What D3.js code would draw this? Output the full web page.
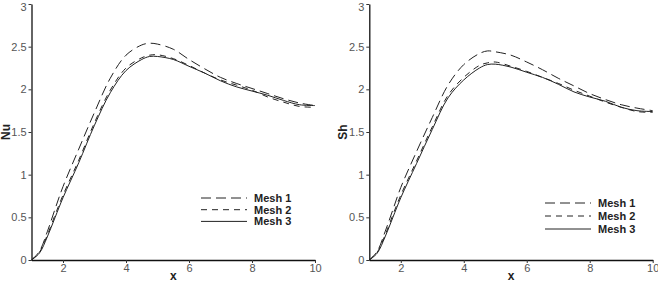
<!DOCTYPE html>
<html>
<head>
<meta charset="utf-8">
<script src="https://cdn.jsdelivr.net/npm/d3@7"></script>
<style>
  body { margin: 0; background: #fff; }
  svg { display: block; font-family: "Liberation Sans", Arial, sans-serif; }
</style>
</head>
<body>
<div id="chart"></div>
<script>
const xGrid = [1, 1.25, 1.5, 1.75, 2, 2.5, 3, 3.5, 4, 4.5, 4.75, 5, 5.5, 6, 6.5, 7, 7.5, 8, 8.5, 9, 9.5, 10];

const nuMesh1 = [0, 0.10, 0.33, 0.60, 0.86, 1.30, 1.73, 2.13, 2.40, 2.52, 2.54, 2.53, 2.47, 2.35, 2.24, 2.14, 2.07, 2.01, 1.95, 1.89, 1.84, 1.81];
const nuMesh2 = [0, 0.09, 0.29, 0.53, 0.76, 1.17, 1.61, 1.99, 2.25, 2.37, 2.40, 2.405, 2.36, 2.28, 2.19, 2.11, 2.05, 1.99, 1.91, 1.85, 1.80, 1.79];
const nuMesh3 = [0, 0.08, 0.27, 0.50, 0.73, 1.14, 1.58, 1.96, 2.22, 2.35, 2.385, 2.385, 2.35, 2.27, 2.19, 2.10, 2.03, 1.98, 1.93, 1.87, 1.82, 1.81];

const shMesh1 = [0, 0.10, 0.33, 0.59, 0.85, 1.27, 1.67, 2.05, 2.29, 2.42, 2.45, 2.44, 2.40, 2.32, 2.23, 2.13, 2.04, 1.95, 1.88, 1.82, 1.78, 1.75];
const shMesh2 = [0, 0.09, 0.29, 0.53, 0.76, 1.16, 1.56, 1.93, 2.14, 2.28, 2.31, 2.32, 2.27, 2.21, 2.14, 2.07, 1.99, 1.92, 1.85, 1.79, 1.74, 1.73];
const shMesh3 = [0, 0.08, 0.27, 0.50, 0.73, 1.13, 1.53, 1.90, 2.11, 2.25, 2.29, 2.295, 2.26, 2.20, 2.14, 2.06, 1.97, 1.91, 1.86, 1.79, 1.75, 1.74];

const seriesNames = ["Mesh 1", "Mesh 2", "Mesh 3"];
const xTicks = [2, 4, 6, 8, 10];
const yTicks = [0, 0.5, 1, 1.5, 2, 2.5, 3];

const width = 658, height = 282;
const dashes = ["10,5", "6,5", null];

const svg = d3.select("#chart")
    .append("svg")
    .attr("width", width)
    .attr("height", height);

function panel(opts) {
    const x = d3.scaleLinear().domain([1, 10]).range([opts.left, opts.right]);
    const y = d3.scaleLinear().domain([0, 3]).range([260, 4]);
    const g = svg.append("g");

    // axes
    const xAxis = g.append("g")
        .attr("transform", `translate(0,${y(0)})`)
        .call(d3.axisBottom(x).tickValues(xTicks).tickSize(3).tickSizeOuter(0).tickFormat(d3.format("d")));
    const yAxis = g.append("g")
        .attr("transform", `translate(${x(1)},0)`)
        .call(d3.axisLeft(y).tickValues(yTicks).tickSize(3).tickSizeOuter(0).tickFormat(d => String(d)));

    [xAxis, yAxis].forEach(a => {
        a.select(".domain").attr("stroke", "#111").attr("stroke-width", 1.3);
        a.selectAll(".tick line").attr("stroke", "#333");
        a.selectAll("text").attr("fill", "#555").attr("font-size", 11);
    });
    xAxis.selectAll("text").attr("dy", "0.55em");
    yAxis.selectAll("text").attr("dx", "0.1em");
    // top label sits at the very edge, nudge it in
    yAxis.selectAll(".tick text").filter(d => d === 3).attr("dy", "0.6em");

    g.append("text")
        .attr("x", (opts.left + opts.right) / 2)
        .attr("y", 280)
        .attr("text-anchor", "middle")
        .attr("font-weight", "bold")
        .attr("font-size", 12)
        .attr("fill", "#222")
        .text("x");

    g.append("text")
        .attr("transform", `translate(${opts.left - 22},132) rotate(-90)`)
        .attr("text-anchor", "middle")
        .attr("font-weight", "bold")
        .attr("font-size", 12)
        .attr("fill", "#222")
        .text(opts.ylabel);

    const line = d3.line()
        .x((d, i) => x(xGrid[i]))
        .y(d => y(d))
        .curve(d3.curveCatmullRom);

    opts.series.forEach((s, i) => {
        g.append("path")
            .datum(s)
            .attr("fill", "none")
            .attr("stroke", "#222")
            .attr("stroke-width", 1)
            .attr("stroke-dasharray", dashes[i])
            .attr("d", line);
    });

    // legend
    const lg = g.append("g").attr("transform", `translate(${opts.legX},${opts.legY})`);
    seriesNames.forEach((name, i) => {
        const yy = i * opts.legStep;
        lg.append("line")
            .attr("x1", 0).attr("x2", 46)
            .attr("y1", yy).attr("y2", yy)
            .attr("stroke", "#222")
            .attr("stroke-width", 1)
            .attr("stroke-dasharray", dashes[i]);
        lg.append("text")
            .attr("x", 53)
            .attr("y", yy)
            .attr("dy", "0.35em")
            .attr("font-weight", "bold")
            .attr("font-size", 11)
            .attr("fill", "#222")
            .text(name);
    });
}

panel({ left: 31.5, right: 315, ylabel: "Nu", series: [nuMesh1, nuMesh2, nuMesh3],
        legX: 201, legY: 198, legStep: 11.7 });
panel({ left: 369.3, right: 652.7, ylabel: "Sh", series: [shMesh1, shMesh2, shMesh3],
        legX: 545, legY: 203, legStep: 13 });
</script>
</body>
</html>
